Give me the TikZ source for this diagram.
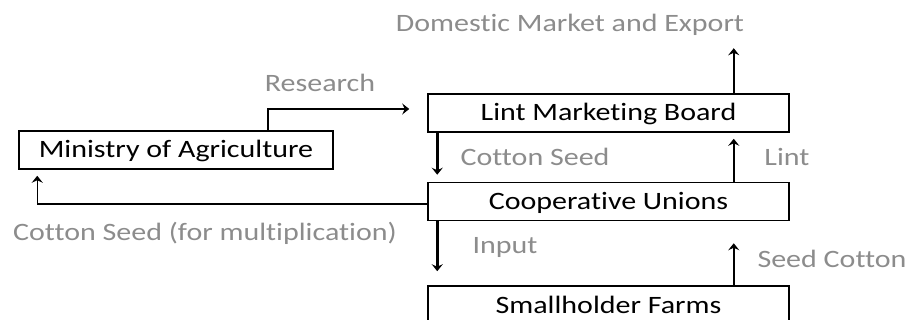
\documentclass[tikz,border=0pt]{standalone}
\usepackage{fontspec}
\setmainfont{Carlito}[FakeStretch=1.2, Ligatures=NoCommon]
\usepackage{xcolor}
\usepackage{tikz}
\usetikzlibrary{arrows.meta}

\definecolor{labelgray}{RGB}{140,140,140}

\begin{document}
\begin{tikzpicture}[x=1pt, y=-1pt, >={Stealth[length=7pt,width=11pt,inset=2.5pt]},
		box/.style={draw, line width=1.5pt, minimum width=361pt, minimum height=38pt, inner sep=0pt,
			text height=16pt, text depth=0pt, font=\fontsize{25}{30}\selectfont},
		flow/.style={->, line width=2.5pt},
		link/.style={->, line width=1.5pt},
		lbl/.style={anchor=base, inner sep=0pt, text=labelgray, font=\fontsize{25}{30}\selectfont}]
		\clip (0,0) rectangle (908,320);

		% Boxes
		\node[box] (lmb) at (608.5,113) {Lint Marketing Board};
		\node[box] (cu) at (608.5,201.5) {Cooperative Unions};
		\node[box, minimum height=40pt] (shf) at (608.5,306) {Smallholder Farms};
		\node[box, minimum width=314pt] (moa) at (176,150) {Ministry of Agriculture};

		% Flow labels
		\node[lbl] (market) at (570,32) {Domestic Market and Export};
		\node[lbl] (research) at (320,92) {Research};
		\node[lbl] (seed) at (535,166) {Cotton Seed};
		\node[lbl] (lint) at (787,166) {Lint};
		\node[lbl] (mult) at (205,241) {Cotton Seed (for multiplication)};
		\node[lbl] (input) at (505,254) {Input};
		\node[lbl] (seedcotton) at (832,268) {Seed Cotton};

		% Downward flows
		\draw[flow, shorten >=7pt] ([xshift=10pt]lmb.south west) -- ([xshift=10pt]cu.north west);
		\draw[flow, shorten >=14pt] ([xshift=10pt]cu.south west) -- ([xshift=10pt]shf.north west);

		% Upward flows
		\draw[flow, shorten >=22pt] ([xshift=-56pt]shf.north east) -- ([xshift=-56pt]cu.south east);
		\draw[flow, shorten >=6pt] ([xshift=-56pt]cu.north east) -- ([xshift=-56pt]lmb.south east);
		\draw[flow, shorten >=12pt] ([xshift=-56pt]lmb.north east) -- ([xshift=-56pt]lmb.north east |- market.south);

		% Research link
		\draw[link, shorten >=18pt] ([xshift=-66pt]moa.north east) |- ([yshift=4pt]lmb.west);

		% Cotton seed for multiplication
		\draw[link, shorten >=6pt] ([yshift=-2.5pt]cu.west) -| ([xshift=19pt]moa.south west);

	\end{tikzpicture}
\end{document}
